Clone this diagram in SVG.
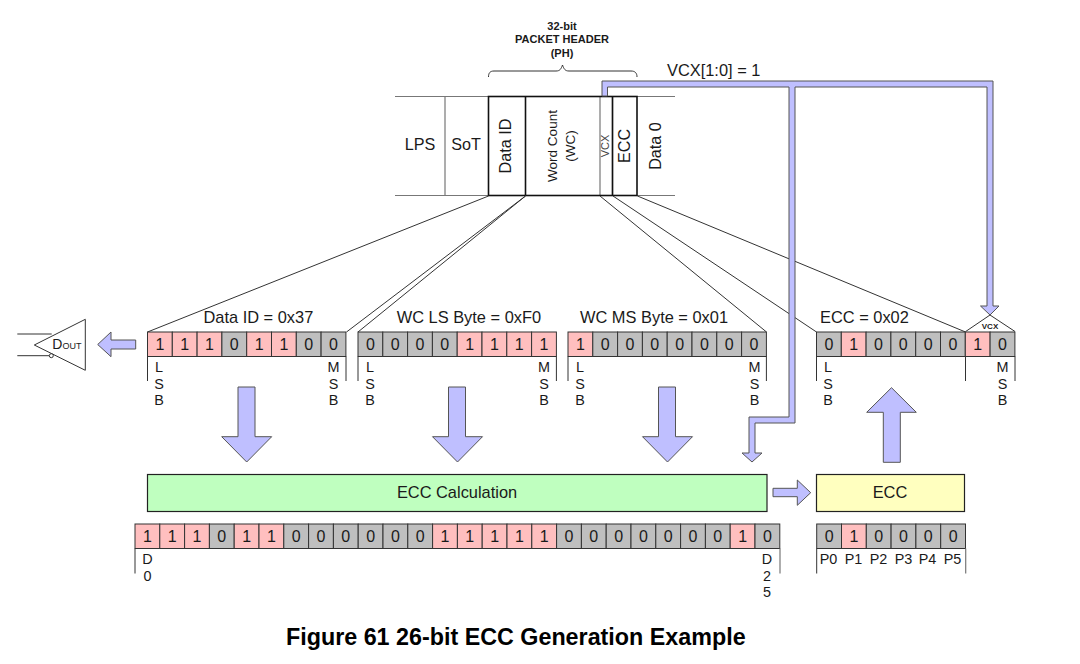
<svg xmlns="http://www.w3.org/2000/svg" width="1080" height="664" viewBox="0 0 1080 664">
<style>
text{font-family:"Liberation Sans",Arial,sans-serif;fill:#1a1a1a}
.m{text-anchor:middle}
.t14{font-size:16.4px}
.b{font-size:16px;text-anchor:middle}
.s{font-size:14.4px;text-anchor:middle}
.one{fill:#ffbfbf;stroke:#333;stroke-width:1}
.zero{fill:#bfbfbf;stroke:#333;stroke-width:1}
.ln{fill:none;stroke:#333;stroke-width:1}
.gl{fill:none;stroke:#777;stroke-width:1.2}
.arrow{fill:#bfbfff;stroke:#555;stroke-width:1;stroke-linejoin:miter}
.box{stroke:#222;stroke-width:1.2}
.hd{fill:none;stroke:#111;stroke-width:1.6}
.ph{font-size:11px;font-weight:bold;text-anchor:middle}
</style>
<rect width="1080" height="664" fill="#fff"/>

<g id="packet-header">
  <path class="gl" d="M395 96.5H675M395 195.5H675"/>
  <path class="gl" d="M445 96.5V195.5M600 96.5V195.5M612.5 96.5V195.5"/>
  <rect class="hd" x="488.5" y="96.5" width="148.5" height="99"/>
  <path class="hd" d="M525.5 96.5V195.5"/>
  <path class="hd" stroke-width="1" d="M612.5 96.5V195.5"/>
  <path class="ln" d="M488.5 77C488.5 73 490 71 494 71H556C560 71 561 69 562.5 65C564 69 565 71 569 71H631C635 71 637 73 637 77"/>
  <text class="ph" x="562" y="30">32-bit</text>
  <text class="ph" x="562" y="43">PACKET HEADER</text>
  <text class="ph" x="562" y="56.5">(PH)</text>
  <text class="m" font-size="16.2" x="420" y="150">LPS</text>
  <text class="m" font-size="16.2" x="466" y="150">SoT</text>
  <text class="m" font-size="16.2" transform="translate(511 146) rotate(-90)">Data ID</text>
  <text class="m" font-size="13.5" transform="translate(557 146) rotate(-90)">Word Count</text>
  <text class="m" font-size="13.5" transform="translate(575 146) rotate(-90)">(WC)</text>
  <text class="m" font-size="11" style="fill:#444" transform="translate(609 146) rotate(-90)">VCX</text>
  <text class="m" font-size="16.2" transform="translate(630 146) rotate(-90)">ECC</text>
  <text class="m" font-size="16.2" transform="translate(661 146) rotate(-90)">Data 0</text>
</g>

<g id="connectors">
  <path class="ln" d="M488.5 196L147.5 332M525.5 196L346.5 332M525.5 196L358 332M600 196L766.5 332M613 196L816.5 332M637.5 196L965.5 332"/>
  <path class="arrow" d="M602 96V81H993V306H999L990 315L980.5 306H987V87H795V423H755V453H762L752 462L742 453H749V417H789V87H607.5V96Z"/>
  <path class="arrow" d="M135.7 340H111V332L97.7 344.5L111 356.7V349H135.7Z"/>
  <path class="arrow" d="M238 387H255V436.7H271.7L246.7 462L221.7 436.7H238Z"/>
  <path class="arrow" d="M448.5 387H465.5V436.7H482.5L457.5 462L432.5 436.7H448.5Z"/>
  <path class="arrow" d="M658.5 387H675.5V436.7H692.5L667.5 462L642.5 436.7H658.5Z"/>
  <path class="arrow" d="M883.3 462.3H900.3V412.3H916.3L891.5 387.7L866.7 412.3H883.3Z"/>
  <path class="arrow" d="M773 488.3H797.3V480L810.7 492.7L797.3 505.3V496.7H773Z"/>
  <text font-size="16.4" x="667" y="76">VCX[1:0] = 1</text>
</g>

<g id="driver">
  <path class="ln" d="M17.3 334H51.7M17.3 355.7H49.3"/>
  <path fill="#fff" stroke="#333" d="M85.3 319.3L34.3 345L85.3 370.3Z"/>
  <circle cx="51.3" cy="355.7" r="2" fill="#fff" stroke="#333"/>
  <text x="52.3" y="349" font-size="14">D<tspan font-size="9">OUT</tspan></text>
</g>

<g id="data-id-byte">
  <text class="t14" x="203.5" y="323">Data ID = 0x37</text>
  <rect class="one" x="147.5" y="332" width="24.8" height="24.5"/><text class="b" x="159.9" y="350">1</text>
  <rect class="one" x="172.3" y="332" width="24.8" height="24.5"/><text class="b" x="184.7" y="350">1</text>
  <rect class="one" x="197.1" y="332" width="24.8" height="24.5"/><text class="b" x="209.5" y="350">1</text>
  <rect class="zero" x="221.9" y="332" width="24.8" height="24.5"/><text class="b" x="234.3" y="350">0</text>
  <rect class="one" x="246.7" y="332" width="24.8" height="24.5"/><text class="b" x="259.1" y="350">1</text>
  <rect class="one" x="271.5" y="332" width="24.8" height="24.5"/><text class="b" x="283.9" y="350">1</text>
  <rect class="zero" x="296.3" y="332" width="24.8" height="24.5"/><text class="b" x="308.7" y="350">0</text>
  <rect class="zero" x="321.1" y="332" width="24.8" height="24.5"/><text class="b" x="333.5" y="350">0</text>
  <path class="ln" d="M147.5 356.5V381M346 356.5V381"/>
  <text class="s" x="159" y="372">L</text><text class="s" x="159" y="388.5">S</text><text class="s" x="159" y="405">B</text>
  <text class="s" x="333.5" y="372">M</text><text class="s" x="333.5" y="388.5">S</text><text class="s" x="333.5" y="405">B</text>
</g>

<g id="wc-ls-byte">
  <text class="t14" x="396.7" y="323">WC LS Byte = 0xF0</text>
  <rect class="zero" x="358" y="332" width="24.8" height="24.5"/><text class="b" x="370.4" y="350">0</text>
  <rect class="zero" x="382.8" y="332" width="24.8" height="24.5"/><text class="b" x="395.2" y="350">0</text>
  <rect class="zero" x="407.6" y="332" width="24.8" height="24.5"/><text class="b" x="420" y="350">0</text>
  <rect class="zero" x="432.4" y="332" width="24.8" height="24.5"/><text class="b" x="444.8" y="350">0</text>
  <rect class="one" x="457.2" y="332" width="24.8" height="24.5"/><text class="b" x="469.6" y="350">1</text>
  <rect class="one" x="482" y="332" width="24.8" height="24.5"/><text class="b" x="494.4" y="350">1</text>
  <rect class="one" x="506.8" y="332" width="24.8" height="24.5"/><text class="b" x="519.2" y="350">1</text>
  <rect class="one" x="531.6" y="332" width="24.8" height="24.5"/><text class="b" x="544" y="350">1</text>
  <path class="ln" d="M358 356.5V381M556.4 356.5V381"/>
  <text class="s" x="370" y="372">L</text><text class="s" x="370" y="388.5">S</text><text class="s" x="370" y="405">B</text>
  <text class="s" x="544" y="372">M</text><text class="s" x="544" y="388.5">S</text><text class="s" x="544" y="405">B</text>
</g>

<g id="wc-ms-byte">
  <text class="t14" x="580" y="323">WC MS Byte = 0x01</text>
  <rect class="one" x="568" y="332" width="24.8" height="24.5"/><text class="b" x="580.4" y="350">1</text>
  <rect class="zero" x="592.8" y="332" width="24.8" height="24.5"/><text class="b" x="605.2" y="350">0</text>
  <rect class="zero" x="617.6" y="332" width="24.8" height="24.5"/><text class="b" x="630" y="350">0</text>
  <rect class="zero" x="642.4" y="332" width="24.8" height="24.5"/><text class="b" x="654.8" y="350">0</text>
  <rect class="zero" x="667.2" y="332" width="24.8" height="24.5"/><text class="b" x="679.6" y="350">0</text>
  <rect class="zero" x="692" y="332" width="24.8" height="24.5"/><text class="b" x="704.4" y="350">0</text>
  <rect class="zero" x="716.8" y="332" width="24.8" height="24.5"/><text class="b" x="729.2" y="350">0</text>
  <rect class="zero" x="741.6" y="332" width="24.8" height="24.5"/><text class="b" x="754" y="350">0</text>
  <path class="ln" d="M568 356.5V381M766.4 356.5V381"/>
  <text class="s" x="580" y="372">L</text><text class="s" x="580" y="388.5">S</text><text class="s" x="580" y="405">B</text>
  <text class="s" x="754.5" y="372">M</text><text class="s" x="754.5" y="388.5">S</text><text class="s" x="754.5" y="405">B</text>
</g>

<g id="ecc-byte">
  <text class="t14" x="820" y="323">ECC = 0x02</text>
  <path class="ln" d="M965.7 331.5L990 315L1015 331.5"/>
  <text class="m" font-size="8" font-weight="bold" x="990" y="328.5">VCX</text>
  <rect class="zero" x="816.5" y="332" width="24.8" height="24.5"/><text class="b" x="828.9" y="350">0</text>
  <rect class="one" x="841.3" y="332" width="24.8" height="24.5"/><text class="b" x="853.7" y="350">1</text>
  <rect class="zero" x="866.1" y="332" width="24.8" height="24.5"/><text class="b" x="878.5" y="350">0</text>
  <rect class="zero" x="890.9" y="332" width="24.8" height="24.5"/><text class="b" x="903.3" y="350">0</text>
  <rect class="zero" x="915.7" y="332" width="24.8" height="24.5"/><text class="b" x="928.1" y="350">0</text>
  <rect class="zero" x="940.5" y="332" width="24.8" height="24.5"/><text class="b" x="952.9" y="350">0</text>
  <rect class="one" x="965.3" y="332" width="24.8" height="24.5"/><text class="b" x="977.7" y="350">1</text>
  <rect class="zero" x="990.1" y="332" width="24.8" height="24.5"/><text class="b" x="1002.5" y="350">0</text>
  <path class="ln" d="M816.5 356.5V381M965.5 356.5V381M1015 356.5V381"/>
  <text class="s" x="828" y="372">L</text><text class="s" x="828" y="388.5">S</text><text class="s" x="828" y="405">B</text>
  <text class="s" x="1002.5" y="372">M</text><text class="s" x="1002.5" y="388.5">S</text><text class="s" x="1002.5" y="405">B</text>
</g>

<g id="ecc-calculation">
  <rect class="box" x="147.5" y="474.5" width="619.5" height="37" fill="#bfffbf"/>
  <text class="m t14" x="457" y="498">ECC Calculation</text>
</g>

<g id="ecc-block">
  <rect class="box" x="816.5" y="474.5" width="148" height="37" fill="#ffffbf"/>
  <text class="m t14" x="890" y="498">ECC</text>
</g>

<g id="d-bits">
  <rect class="one" x="135" y="524" width="24.8" height="24.5"/><text class="b" x="147.4" y="542">1</text>
  <rect class="one" x="159.8" y="524" width="24.8" height="24.5"/><text class="b" x="172.2" y="542">1</text>
  <rect class="one" x="184.6" y="524" width="24.8" height="24.5"/><text class="b" x="197" y="542">1</text>
  <rect class="zero" x="209.4" y="524" width="24.8" height="24.5"/><text class="b" x="221.8" y="542">0</text>
  <rect class="one" x="234.2" y="524" width="24.8" height="24.5"/><text class="b" x="246.6" y="542">1</text>
  <rect class="one" x="259" y="524" width="24.8" height="24.5"/><text class="b" x="271.4" y="542">1</text>
  <rect class="zero" x="283.8" y="524" width="24.8" height="24.5"/><text class="b" x="296.2" y="542">0</text>
  <rect class="zero" x="308.6" y="524" width="24.8" height="24.5"/><text class="b" x="321" y="542">0</text>
  <rect class="zero" x="333.4" y="524" width="24.8" height="24.5"/><text class="b" x="345.8" y="542">0</text>
  <rect class="zero" x="358.2" y="524" width="24.8" height="24.5"/><text class="b" x="370.6" y="542">0</text>
  <rect class="zero" x="383" y="524" width="24.8" height="24.5"/><text class="b" x="395.4" y="542">0</text>
  <rect class="zero" x="407.8" y="524" width="24.8" height="24.5"/><text class="b" x="420.2" y="542">0</text>
  <rect class="one" x="432.6" y="524" width="24.8" height="24.5"/><text class="b" x="445" y="542">1</text>
  <rect class="one" x="457.4" y="524" width="24.8" height="24.5"/><text class="b" x="469.8" y="542">1</text>
  <rect class="one" x="482.2" y="524" width="24.8" height="24.5"/><text class="b" x="494.6" y="542">1</text>
  <rect class="one" x="507" y="524" width="24.8" height="24.5"/><text class="b" x="519.4" y="542">1</text>
  <rect class="one" x="531.8" y="524" width="24.8" height="24.5"/><text class="b" x="544.2" y="542">1</text>
  <rect class="zero" x="556.6" y="524" width="24.8" height="24.5"/><text class="b" x="569" y="542">0</text>
  <rect class="zero" x="581.4" y="524" width="24.8" height="24.5"/><text class="b" x="593.8" y="542">0</text>
  <rect class="zero" x="606.2" y="524" width="24.8" height="24.5"/><text class="b" x="618.6" y="542">0</text>
  <rect class="zero" x="631" y="524" width="24.8" height="24.5"/><text class="b" x="643.4" y="542">0</text>
  <rect class="zero" x="655.8" y="524" width="24.8" height="24.5"/><text class="b" x="668.2" y="542">0</text>
  <rect class="zero" x="680.6" y="524" width="24.8" height="24.5"/><text class="b" x="693" y="542">0</text>
  <rect class="zero" x="705.4" y="524" width="24.8" height="24.5"/><text class="b" x="717.8" y="542">0</text>
  <rect class="one" x="730.2" y="524" width="24.8" height="24.5"/><text class="b" x="742.6" y="542">1</text>
  <rect class="zero" x="755" y="524" width="24.8" height="24.5"/><text class="b" x="767.4" y="542">0</text>
  <path class="ln" d="M135 548.5V573.5"/>
  <path class="gl" d="M780 548.5V573.5"/>
  <text class="s" x="147.5" y="564">D</text><text class="s" x="147.5" y="580.5">0</text>
  <text class="s" x="767" y="564">D</text><text class="s" x="767" y="580.5">2</text><text class="s" x="767" y="597">5</text>
</g>

<g id="p-bits">
  <rect class="zero" x="816.7" y="524" width="24.8" height="24.5"/><text class="b" x="829.1" y="542">0</text>
  <rect class="one" x="841.5" y="524" width="24.8" height="24.5"/><text class="b" x="853.9" y="542">1</text>
  <rect class="zero" x="866.3" y="524" width="24.8" height="24.5"/><text class="b" x="878.7" y="542">0</text>
  <rect class="zero" x="891.1" y="524" width="24.8" height="24.5"/><text class="b" x="903.5" y="542">0</text>
  <rect class="zero" x="915.9" y="524" width="24.8" height="24.5"/><text class="b" x="928.3" y="542">0</text>
  <rect class="zero" x="940.7" y="524" width="24.8" height="24.5"/><text class="b" x="953.1" y="542">0</text>
  <path class="ln" d="M816.7 548.5V573.5"/>
  <path class="gl" d="M965.7 548.5V573.5"/>
  <text class="s" x="828.5" y="564">P0</text><text class="s" x="853.5" y="564">P1</text><text class="s" x="878.5" y="564">P2</text><text class="s" x="903.5" y="564">P3</text><text class="s" x="927.5" y="564">P4</text><text class="s" x="952.5" y="564">P5</text>
</g>

<text id="caption" x="286" y="645" font-size="23.3" font-weight="bold" style="fill:#000">Figure 61 26-bit ECC Generation Example</text>
</svg>
